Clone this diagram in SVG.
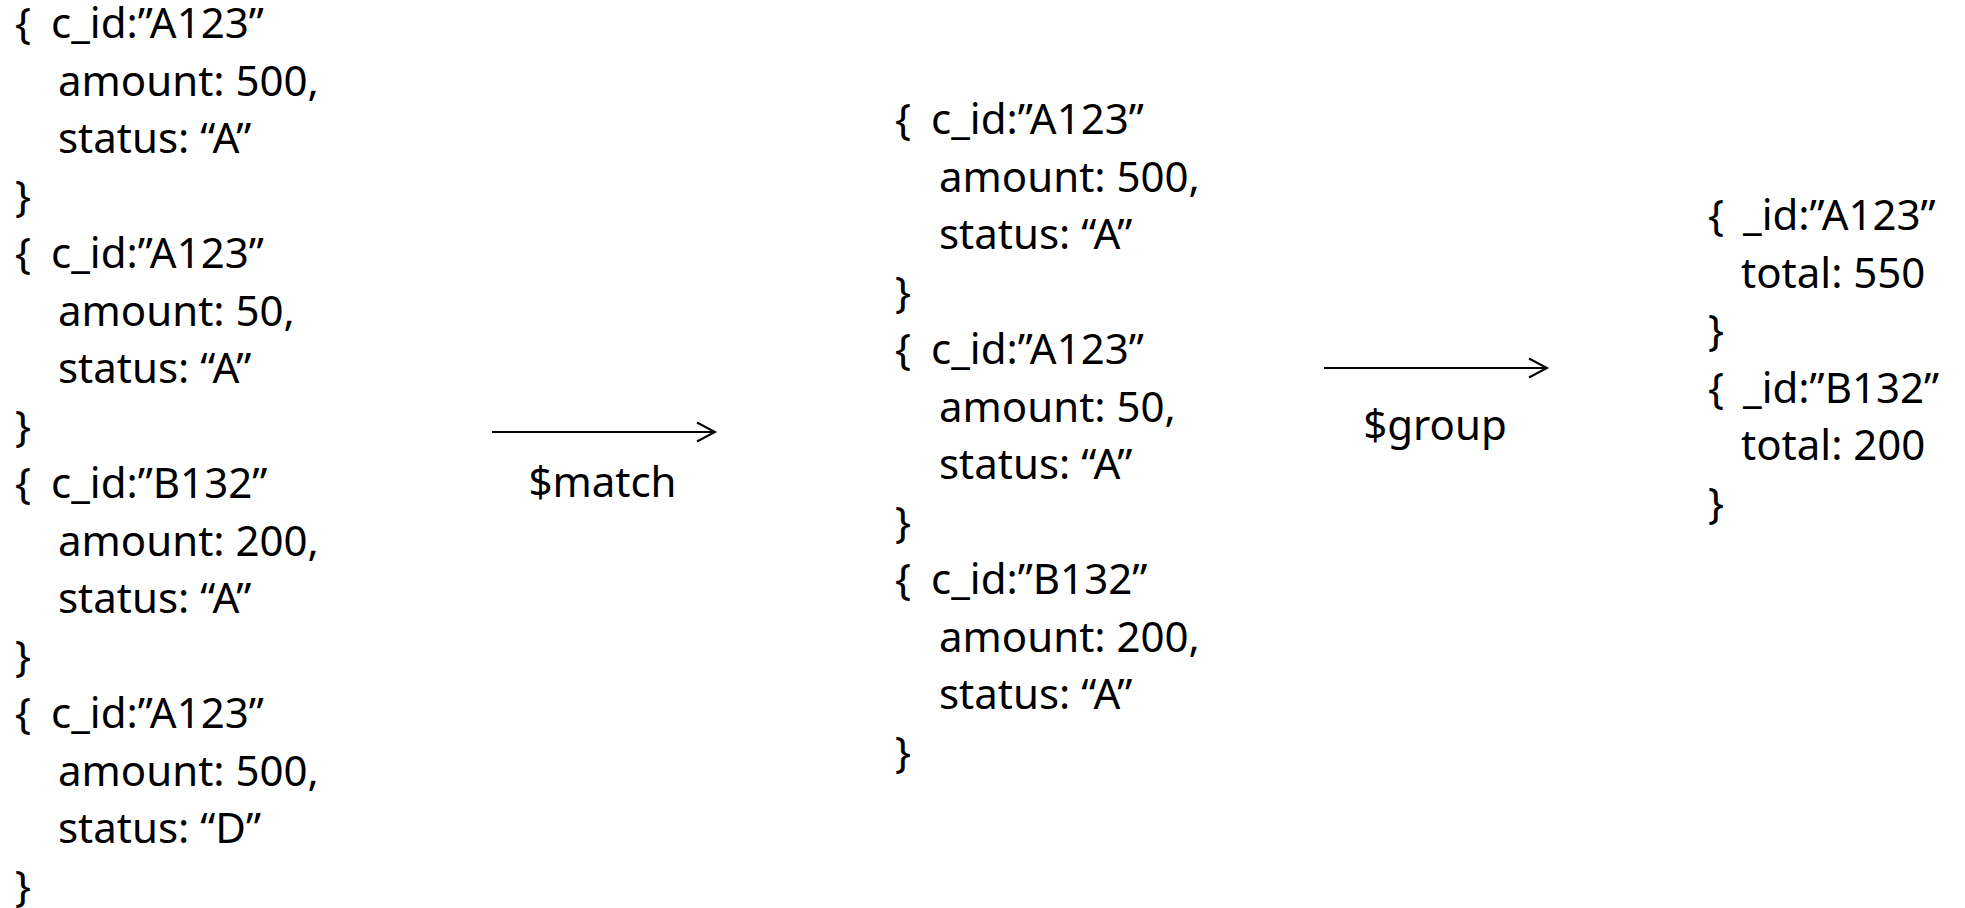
<svg xmlns="http://www.w3.org/2000/svg" width="1965" height="908" viewBox="0 0 1965 908">
<style>
  .t { font-family: "Noto Sans", "Open Sans", sans-serif; font-size: 42px; fill: #000; }
  .lbl { font-family: "Noto Sans", "Open Sans", sans-serif; font-size: 42px; fill: #000; text-anchor: middle; }
  .conn { stroke: #000; stroke-width: 2; fill: none; }
</style>
<defs>
  <marker id="chev" markerUnits="userSpaceOnUse" markerWidth="24" markerHeight="24" refX="20" refY="12" orient="auto" viewBox="0 0 24 24">
    <polyline points="2,2.5 20,12 2,21.5" fill="none" stroke="#000" stroke-width="2"/>
  </marker>
</defs>
<rect width="1965" height="908" fill="#fff"/>

<g id="input-docs">
  <g id="in-doc-1">
    <text class="t" x="15" y="38">{</text><text class="t" x="51" y="38">c_id:”A123”</text>
    <text class="t" x="58" y="95.5">amount: 500,</text>
    <text class="t" x="58" y="153">status: “A”</text>
    <text class="t" x="15" y="210.5">}</text>
  </g>
  <g id="in-doc-2">
    <text class="t" x="15" y="268">{</text><text class="t" x="51" y="268">c_id:”A123”</text>
    <text class="t" x="58" y="325.5">amount: 50,</text>
    <text class="t" x="58" y="383">status: “A”</text>
    <text class="t" x="15" y="440.5">}</text>
  </g>
  <g id="in-doc-3">
    <text class="t" x="15" y="498">{</text><text class="t" x="51" y="498">c_id:”B132”</text>
    <text class="t" x="58" y="555.5">amount: 200,</text>
    <text class="t" x="58" y="613">status: “A”</text>
    <text class="t" x="15" y="670.5">}</text>
  </g>
  <g id="in-doc-4">
    <text class="t" x="15" y="728">{</text><text class="t" x="51" y="728">c_id:”A123”</text>
    <text class="t" x="58" y="785.5">amount: 500,</text>
    <text class="t" x="58" y="843">status: “D”</text>
    <text class="t" x="15" y="900.5">}</text>
  </g>
</g>

<g id="matched-docs">
  <g id="m-doc-1">
    <text class="t" x="895" y="134">{</text><text class="t" x="931" y="134">c_id:”A123”</text>
    <text class="t" x="939" y="191.5">amount: 500,</text>
    <text class="t" x="939" y="249">status: “A”</text>
    <text class="t" x="895" y="306.5">}</text>
  </g>
  <g id="m-doc-2">
    <text class="t" x="895" y="364">{</text><text class="t" x="931" y="364">c_id:”A123”</text>
    <text class="t" x="939" y="421.5">amount: 50,</text>
    <text class="t" x="939" y="479">status: “A”</text>
    <text class="t" x="895" y="536.5">}</text>
  </g>
  <g id="m-doc-3">
    <text class="t" x="895" y="594">{</text><text class="t" x="931" y="594">c_id:”B132”</text>
    <text class="t" x="939" y="651.5">amount: 200,</text>
    <text class="t" x="939" y="709">status: “A”</text>
    <text class="t" x="895" y="766.5">}</text>
  </g>
</g>

<g id="grouped-docs">
  <g id="g-doc-1">
    <text class="t" x="1708" y="230">{</text><text class="t" x="1743" y="230">_id:”A123”</text>
    <text class="t" x="1741" y="287.5">total: 550</text>
    <text class="t" x="1708" y="345">}</text>
  </g>
  <g id="g-doc-2">
    <text class="t" x="1708" y="402.5">{</text><text class="t" x="1743" y="402.5">_id:”B132”</text>
    <text class="t" x="1741" y="460">total: 200</text>
    <text class="t" x="1708" y="517.5">}</text>
  </g>
</g>

<g id="connectors">
  <line class="conn" x1="492" y1="432" x2="715" y2="432" marker-end="url(#chev)"/>
  <text class="lbl" x="602.5" y="497">$match</text>
  <line class="conn" x1="1324" y1="368" x2="1547" y2="368" marker-end="url(#chev)"/>
  <text class="lbl" x="1435" y="440">$group</text>
</g>
</svg>
